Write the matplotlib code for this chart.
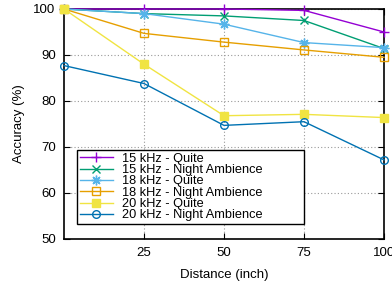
import matplotlib
matplotlib.use("Agg")
import matplotlib.pyplot as plt

plt.rcParams['font.family'] = ['Liberation Sans', 'DejaVu Sans']

distance = [0, 25, 50, 75, 100]
labels = ["15 kHz - Quite", "15 kHz - Night Ambience", "18 kHz - Quite",
          "18 kHz - Night Ambience", "20 kHz - Quite", "20 kHz - Night Ambience"]
acc_15_quite = [100, 100, 100, 99.7, 95.0]
acc_15_night = [100, 99.0, 98.5, 97.5, 91.4]
acc_18_quite = [100, 99.0, 96.7, 92.7, 91.6]
acc_18_night = [100, 94.7, 92.8, 91.1, 89.5]
acc_20_quite = [100, 88.0, 76.8, 77.1, 76.4]
acc_20_night = [87.7, 83.8, 74.7, 75.5, 67.2]
xticks = [25, 50, 75, 100]
yticks = [50, 60, 70, 80, 90, 100]

series = [acc_15_quite, acc_15_night, acc_18_quite, acc_18_night, acc_20_quite, acc_20_night]
colors = ['#9400d3', '#009e73', '#56b4e9', '#e69f00', '#f0e442', '#0072b2']
markers = ['+', 'x', (8, 2, 0), 's', 's', 'o']
fills = ['full', 'full', 'full', 'none', 'full', 'none']
msizes = [7, 6, 7, 5.5, 6, 5.5]

fig = plt.figure(figsize=(3.92, 2.86), dpi=100)
ax = fig.add_axes([64/392, 1-239/286, 320/392, 230/286])

for y, c, m, f, ms, lab in zip(series, colors, markers, fills, msizes, labels):
    ax.plot(distance, y, color=c, marker=m, fillstyle=f, markersize=ms,
            linewidth=1.0, markeredgewidth=1.0, label=lab, clip_on=False, zorder=3)

ax.set_xlim(0, 100)
ax.set_ylim(50, 100)
ax.set_xticks(xticks)
ax.set_yticks(yticks)
ax.tick_params(direction='in', top=True, right=True, labelsize=9.5, length=4, width=0.8, pad=6)
ax.grid(True, linestyle=(0, (1, 2)), color='#999999', linewidth=0.8)
ax.set_axisbelow(True)
for s in ax.spines.values():
    s.set_linewidth(1.2)
ax.set_xlabel("Distance (inch)", fontsize=9.5, labelpad=7)
ax.set_ylabel("Accuracy (%)", fontsize=9.5, labelpad=6)

leg = ax.legend(loc='lower left', bbox_to_anchor=(13/320, 15/230, 227/320, 77/230),
                mode='expand', borderaxespad=0, fontsize=9.2, handlelength=2.6,
                handletextpad=0.75, labelspacing=-0.05, borderpad=0.2,
                fancybox=False, framealpha=1, edgecolor='black')
leg.get_frame().set_linewidth(1.0)

fig.savefig("out.png", dpi=100)
